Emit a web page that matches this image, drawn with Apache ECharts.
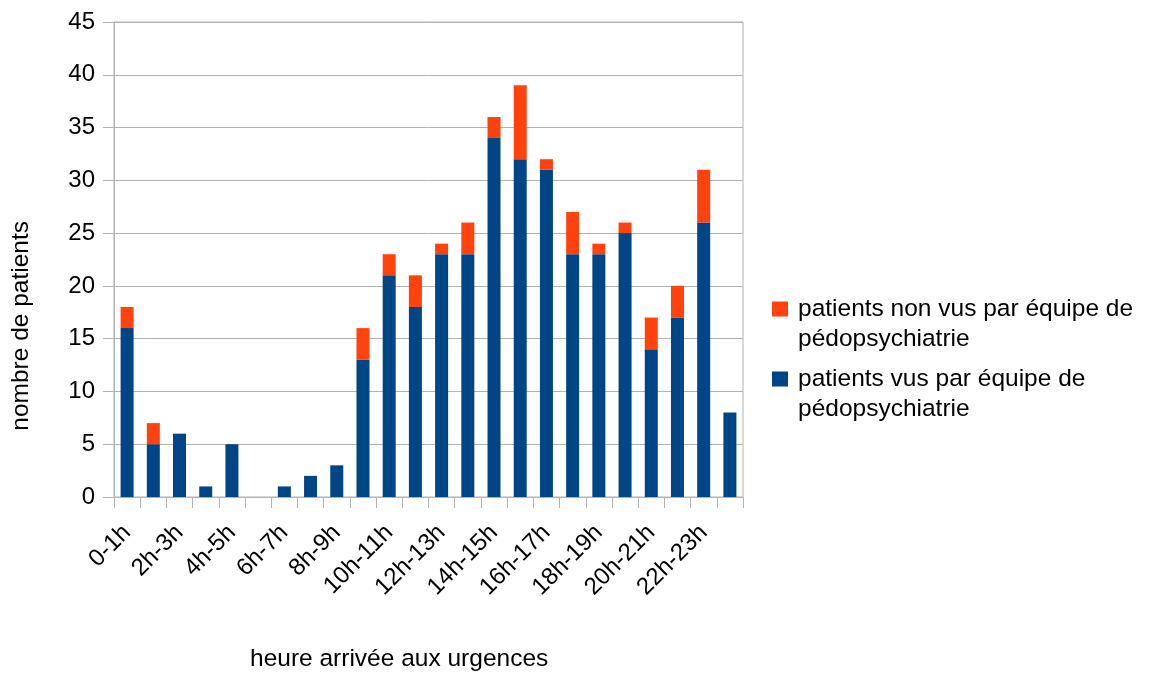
<!DOCTYPE html>
<html>
<head>
<meta charset="utf-8">
<script src="https://cdn.jsdelivr.net/npm/echarts@6/dist/echarts.min.js"></script>
<style>html,body{margin:0;padding:0;background:#fff}#c{width:1163px;height:675px}</style>
</head>
<body>
<div id="c"></div>
<script>
const categories = ['0-1h','1h-2h','2h-3h','3h-4h','4h-5h','5h-6h','6h-7h','7h-8h','8h-9h','9h-10h','10h-11h','11h-12h','12h-13h','13h-14h','14h-15h','15h-16h','16h-17h','17h-18h','18h-19h','19h-20h','20h-21h','21h-22h','22h-23h','23h-24h'];
const vus =    [16, 5, 6, 1, 5, 0, 1, 2, 3, 13, 21, 18, 23, 23, 34, 32, 31, 23, 23, 25, 14, 17, 26, 8];
const nonVus = [ 2, 2, 0, 0, 0, 0, 0, 0, 0,  3,  2,  3,  1,  3,  2,  7,  1,  4,  1,  1,  3,  3,  5, 0];
const nameVus = 'patients vus par équipe de\npédopsychiatrie';
const nameNonVus = 'patients non vus par équipe de\npédopsychiatrie';
const yTitle = 'nombre de patients';
const xTitle = 'heure arrivée aux urgences';

const FONT = '"Liberation Sans", Arial, sans-serif';
// square icon in the top-left of a taller box so it sits beside the first text line
const ICON = 'path://M0,0H16V15H0Z M20.99,44.99H21V45H20.99Z';
const chart = echarts.init(document.getElementById('c'));
chart.setOption({
  animation: false,
  textStyle: { fontFamily: FONT },
  grid: { left: 114, right: 420, top: 22, bottom: 178, show: true, borderColor: '#b3b3b3', borderWidth: 1, backgroundColor: 'transparent' },
  legend: {
    orient: 'vertical', left: 772, top: 294, padding: 0,
    data: [nameNonVus, nameVus],
    icon: ICON, itemWidth: 21, itemHeight: 45, itemGap: 10,
    textStyle: { fontFamily: FONT, fontSize: 24.5, color: '#000', lineHeight: 30 }
  },
  xAxis: {
    type: 'category', data: categories,
    axisLine: { lineStyle: { color: '#b3b3b3' } },
    axisTick: { show: true, interval: 0, length: 11, lineStyle: { color: '#b3b3b3' } },
    axisLabel: { interval: 1, rotate: 45, fontSize: 24, color: '#000', margin: 32, fontFamily: FONT },
    splitLine: { show: false }
  },
  yAxis: {
    type: 'value', min: 0, max: 45, interval: 5,
    axisLine: { show: true, lineStyle: { color: '#b3b3b3' } },
    axisTick: { show: true, length: 11, lineStyle: { color: '#b3b3b3' } },
    axisLabel: { fontSize: 24, color: '#000', margin: 19, fontFamily: FONT },
    splitLine: { lineStyle: { color: '#b3b3b3' } }
  },
  series: [
    { name: nameVus, type: 'bar', stack: 't', data: vus, barWidth: 13, itemStyle: { color: '#004586' } },
    { name: nameNonVus, type: 'bar', stack: 't', data: nonVus, barWidth: 13, itemStyle: { color: '#ff420e' } }
  ],
  graphic: [
    { type: 'text', left: 9, top: 221, rotation: Math.PI / 2, style: { text: yTitle, font: '24.5px ' + FONT, fill: '#000' } },
    { type: 'text', left: 250, top: 647, style: { text: xTitle, font: '24.5px ' + FONT, fill: '#000' } }
  ]
});
</script>
</body>
</html>
